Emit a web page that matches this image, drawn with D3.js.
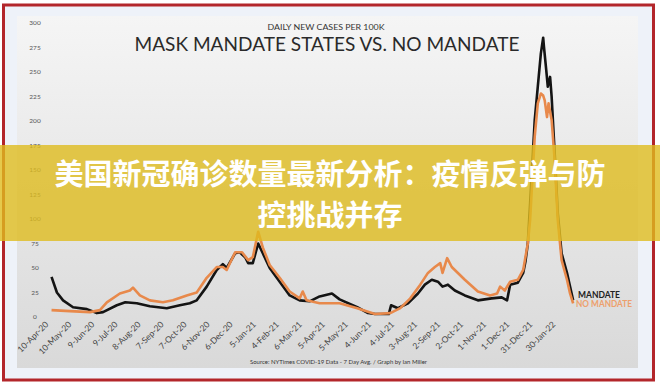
<!DOCTYPE html>
<html>
<head>
<meta charset="utf-8">
<script src="https://cdn.jsdelivr.net/npm/d3@7"></script>
<style>
  html, body { margin: 0; padding: 0; background: #fff; }
  svg { display: block; }
</style>
</head>
<body>
<svg id="chart" width="660" height="388"></svg>
<script>
// tick labels on the x axis (every 30 days)
var tickDates = ['2020-04-10','2020-05-10','2020-06-09','2020-07-09','2020-08-08','2020-09-07',
  '2020-10-07','2020-11-06','2020-12-06','2021-01-05','2021-02-04','2021-03-06','2021-04-05',
  '2021-05-05','2021-06-04','2021-07-04','2021-08-03','2021-09-02','2021-10-02','2021-11-01',
  '2021-12-01','2021-12-31','2022-01-30'];
var yTicks = [0, 25, 50, 75, 100, 125, 150, 175, 200, 225, 250, 275, 300];

// mask mandate states (black)
var mandateDates = ['2020-04-12','2020-04-19','2020-04-27','2020-05-10','2020-05-28','2020-06-10',
  '2020-06-18','2020-07-06','2020-07-17','2020-08-01','2020-08-18','2020-09-09','2020-09-26',
  '2020-10-09','2020-10-18','2020-10-31','2020-11-13','2020-11-21','2020-11-26','2020-12-07',
  '2020-12-13','2020-12-20','2020-12-24','2020-12-30','2021-01-06','2021-01-12','2021-01-21',
  '2021-02-03','2021-02-16','2021-03-01','2021-03-14','2021-03-27','2021-04-12','2021-04-22',
  '2021-05-15','2021-05-29','2021-06-07','2021-06-25','2021-06-28','2021-07-07','2021-07-20',
  '2021-08-02','2021-08-11','2021-08-20','2021-08-28','2021-09-03','2021-09-10','2021-09-19',
  '2021-10-02','2021-10-19','2021-11-06','2021-11-19','2021-11-26','2021-11-30','2021-12-10',
  '2021-12-17','2021-12-20','2021-12-23','2021-12-26','2022-01-01','2022-01-05','2022-01-09',
  '2022-01-12','2022-01-13','2022-01-16','2022-01-18','2022-01-21','2022-01-23','2022-01-27',
  '2022-01-31','2022-02-05','2022-02-12','2022-02-16','2022-02-20'];
var mandateValues = [41, 25, 17, 10, 8, 4,
  5, 12, 15, 14, 11, 9, 12,
  14, 17, 31, 48, 54, 50, 65,
  66, 61, 55, 55, 75, 65, 50,
  36, 22, 17, 16, 21, 24, 18,
  10, 4, 3, 3, 12, 9, 14,
  24, 33, 38, 36, 31, 33, 27,
  22, 17, 19, 20, 17, 33, 35,
  45, 57, 75, 116, 201, 235, 269,
  285, 276, 252, 235, 245, 225, 167,
  106, 65, 45, 31, 17];

// no mandate states (orange)
var noMandateDates = ['2020-04-12','2020-05-06','2020-06-01','2020-06-14','2020-06-23','2020-07-10',
  '2020-07-23','2020-07-27','2020-08-05','2020-08-18','2020-09-04','2020-09-17','2020-10-05',
  '2020-10-18','2020-10-31','2020-11-13','2020-11-21','2020-11-26','2020-12-07','2020-12-16',
  '2020-12-24','2020-12-30','2021-01-06','2021-01-12','2021-01-21','2021-02-03','2021-02-16',
  '2021-03-01','2021-03-05','2021-03-10','2021-03-27','2021-04-22','2021-05-15','2021-06-07',
  '2021-06-27','2021-07-10','2021-07-23','2021-08-05','2021-08-15','2021-08-24','2021-08-31',
  '2021-09-03','2021-09-09','2021-09-15','2021-10-02','2021-10-19','2021-11-04','2021-11-13',
  '2021-11-17','2021-11-23','2021-11-30','2021-12-10','2021-12-17','2021-12-23','2021-12-26',
  '2022-01-01','2022-01-05','2022-01-09','2022-01-12','2022-01-14','2022-01-17','2022-01-19',
  '2022-01-23','2022-01-27','2022-01-31','2022-02-05','2022-02-12','2022-02-16','2022-02-20'];
var noMandateValues = [7, 6, 5, 7, 15, 24,
  27, 30, 22, 17, 15, 17, 22,
  25, 40, 51, 51, 48, 66, 66,
  58, 61, 87, 71, 53, 40, 26,
  19, 26, 17, 14, 14, 9, 3,
  4, 9, 19, 33, 45, 51, 55,
  45, 60, 51, 38, 26, 22, 24,
  31, 27, 36, 38, 48, 75, 99,
  184, 218, 228, 226, 221, 204, 218,
  201, 160, 99, 58, 38, 24, 14];

var parseDate = d3.timeParse('%Y-%m-%d');
var fmtTick = d3.timeFormat('%-d-%b-%y');

var svg = d3.select('#chart');

// outer frame
svg.append('rect').attr('x', 0).attr('y', 0).attr('width', 660).attr('height', 388).attr('fill', '#ffffff');
svg.append('rect').attr('x', 3.5).attr('y', 5).attr('width', 650).attr('height', 375)
  .attr('fill', '#eef2f9').attr('stroke', '#b3262b').attr('stroke-width', 3);

var defs = svg.append('defs');
var grad = defs.append('linearGradient').attr('id', 'panelGrad')
  .attr('x1', 0).attr('y1', 0).attr('x2', 0).attr('y2', 1);
grad.append('stop').attr('offset', '0%').attr('stop-color', '#f5f5f5');
grad.append('stop').attr('offset', '100%').attr('stop-color', '#d9d9d9');

svg.append('rect').attr('x', 17).attr('y', 16).attr('width', 621).attr('height', 352)
  .attr('fill', 'url(#panelGrad)');

var x = d3.scaleTime()
  .domain([parseDate('2020-04-10'), parseDate('2022-01-30')])
  .range([50, 557]);
var y = d3.scaleLinear().domain([0, 300]).range([317, 23]);

// y labels
svg.append('g').selectAll('text').data(yTicks).join('text')
  .attr('x', 35).attr('y', function(d) { return y(d); })
  .attr('dy', '0.35em')
  .attr('text-anchor', 'middle')
  .attr('font-family', 'Lato, sans-serif')
  .attr('font-size', 6.5)
  .attr('fill', '#555')
  .text(function(d) { return d; });

// x labels, rotated
svg.append('g').selectAll('text').data(tickDates).join('text')
  .attr('transform', function(d) { return 'translate(' + (x(parseDate(d)) - 1) + ',325) rotate(-45)'; })
  .attr('text-anchor', 'end')
  .attr('font-family', 'Lato, sans-serif')
  .attr('font-size', 8.5)
  .attr('fill', '#444')
  .text(function(d) { return fmtTick(parseDate(d)); });

// titles
svg.append('text').attr('x', 326).attr('y', 30).attr('text-anchor', 'middle')
  .attr('font-family', 'Lato, sans-serif').attr('font-size', 7.5).attr('fill', '#333')
  .attr('textLength', 117).attr('lengthAdjust', 'spacingAndGlyphs')
  .text('DAILY NEW CASES PER 100K');
svg.append('text').attr('x', 327).attr('y', 51).attr('text-anchor', 'middle')
  .attr('font-family', 'Lato, sans-serif').attr('font-size', 20).attr('fill', '#2a2a2a')
  .attr('textLength', 385).attr('lengthAdjust', 'spacingAndGlyphs')
  .text('MASK MANDATE STATES VS. NO MANDATE');

svg.append('text').attr('x', 250).attr('y', 364)
  .attr('font-family', 'Lato, sans-serif').attr('font-size', 5.8).attr('fill', '#333')
  .attr('textLength', 177).attr('lengthAdjust', 'spacingAndGlyphs')
  .text('Source: NYTimes COVID-19 Data - 7 Day Avg. / Graph by Ian Miller');

// lines
var line = d3.line()
  .x(function(d) { return x(d.date); })
  .y(function(d) { return y(d.value); })
  .curve(d3.curveLinear);

var mandate = mandateDates.map(function(d, i) { return { date: parseDate(d), value: mandateValues[i] }; });
var noMandate = noMandateDates.map(function(d, i) { return { date: parseDate(d), value: noMandateValues[i] }; });

svg.append('path').datum(mandate).attr('d', line)
  .attr('fill', 'none').attr('stroke', '#141414').attr('stroke-width', 2.6)
  .attr('stroke-linejoin', 'round');
svg.append('path').datum(noMandate).attr('d', line)
  .attr('fill', 'none').attr('stroke', '#e8894b').attr('stroke-width', 2.6)
  .attr('stroke-linejoin', 'round');

// legend labels at the line ends
svg.append('text').attr('x', 578).attr('y', 298)
  .attr('font-family', 'Lato, sans-serif').attr('font-weight', 700).attr('font-size', 8.5)
  .attr('fill', '#222').attr('textLength', 42).attr('lengthAdjust', 'spacingAndGlyphs')
  .text('MANDATE');
svg.append('text').attr('x', 576).attr('y', 307)
  .attr('font-family', 'Lato, sans-serif').attr('font-weight', 700).attr('font-size', 8.5)
  .attr('fill', '#eda06c').attr('textLength', 56).attr('lengthAdjust', 'spacingAndGlyphs')
  .text('NO MANDATE');

// yellow headline banner over the chart
svg.append('rect').attr('x', 0).attr('y', 145).attr('width', 660).attr('height', 96)
  .attr('fill', 'rgba(222,188,30,0.8)');
var headline = ['美国新冠确诊数量最新分析：疫情反弹与防', '控挑战并存'];
svg.append('g').selectAll('text').data(headline).join('text')
  .attr('x', 330).attr('y', function(d, i) { return 175 + i * 41; })
  .attr('dy', '0.36em')
  .attr('text-anchor', 'middle')
  .attr('font-family', '"Noto Sans CJK SC", sans-serif')
  .attr('font-weight', 700)
  .attr('font-size', 29)
  .attr('fill', '#ffffff')
  .text(function(d) { return d; });
</script>
</body>
</html>
